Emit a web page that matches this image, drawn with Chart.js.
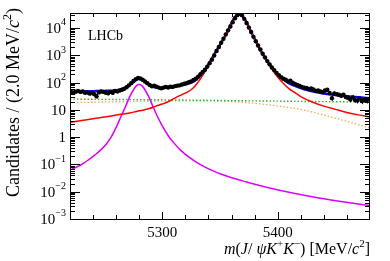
<!DOCTYPE html>
<html>
<head>
<meta charset="utf-8">
<script src="https://cdn.jsdelivr.net/npm/chart.js@4.4.0/dist/chart.umd.min.js"></script>
<style>
  html, body { margin: 0; padding: 0; background: #fff; }
  #wrap { width: 390px; height: 261px; }
</style>
</head>
<body>
<div id="wrap"><canvas id="massChart" width="390" height="261"></canvas></div>
<script>
// bin centres in MeV/c^2 (2 MeV bins)
var binCentres = [
    5221, 5223, 5225, 5227, 5229, 5231, 5233, 5235, 5237, 5239,
    5241, 5243, 5245, 5247, 5249, 5251, 5253, 5255, 5257, 5259,
    5261, 5263, 5265, 5267, 5269, 5271, 5273, 5275, 5277, 5279,
    5281, 5283, 5285, 5287, 5289, 5291, 5293, 5295, 5297, 5299,
    5301, 5303, 5305, 5307, 5309, 5311, 5313, 5315, 5317, 5319,
    5321, 5323, 5325, 5327, 5329, 5331, 5333, 5335, 5337, 5339,
    5341, 5343, 5345, 5347, 5349, 5351, 5353, 5355, 5357, 5359,
    5361, 5363, 5365, 5367, 5369, 5371, 5373, 5375, 5377, 5379,
    5381, 5383, 5385, 5387, 5389, 5391, 5393, 5395, 5397, 5399,
    5401, 5403, 5405, 5407, 5409, 5411, 5413, 5415, 5417, 5419,
    5421, 5423, 5425, 5427, 5429, 5431, 5433, 5435, 5437, 5439,
    5441, 5443, 5445, 5447, 5449, 5451, 5453, 5455, 5457, 5459,
    5461, 5463, 5465, 5467, 5469, 5471, 5473, 5475, 5477, 5479
];
// candidates per bin
var candidates = [
    45, 42, 47, 50, 46, 48, 43, 44, 40, 42,
    38, 32, 44, 48, 46, 43, 41, 46, 43, 50,
    48, 52, 55, 60, 68, 80, 96, 115, 135, 150,
    142, 128, 110, 95, 82, 74, 78, 72, 66, 62,
    66, 70, 67, 72, 70, 75, 78, 80, 86, 92,
    96, 104, 112, 125, 140, 165, 205, 250, 300, 390,
    520, 700, 1000, 1450, 2050, 2900, 4100, 5900, 8300, 11500,
    16500, 23000, 30000, 34000, 30000, 22000, 15500, 10500, 7200, 4800,
    3300, 2300, 1650, 1150, 850, 620, 470, 360, 290, 230,
    190, 160, 140, 128, 112, 118, 100, 90, 82, 76,
    70, 66, 64, 58, 62, 56, 50, 52, 48, 45,
    52, 55, 42, 27, 40, 38, 36, 33, 36, 30,
    28, 24, 29, 23, 22, 26, 21, 24, 22, 25
];

// fit curves: total (blue) and Bs signal (red) on one mass grid
var fitMass = [5220, 5230, 5240, 5250, 5256, 5260, 5264, 5268, 5272, 5276,
    5280, 5284, 5288, 5292, 5296, 5300, 5305, 5310, 5316, 5322,
    5326, 5330, 5334, 5338, 5342, 5346, 5350, 5354, 5358, 5361,
    5364, 5367, 5370, 5373, 5376, 5380, 5384, 5388, 5392, 5396,
    5400, 5405, 5410, 5415, 5420, 5430, 5440, 5450, 5460, 5470, 5480];
var totalFit = [47, 48, 49, 50, 51, 53, 57, 65, 84, 117,
    139, 118, 88, 70, 65, 64, 66, 71, 80, 92,
    104, 136, 204, 344, 644, 1304, 2444, 4743, 10043, 19043,
    29040, 34040, 26040, 16640, 8940, 4040, 1900, 970, 529, 313,
    197, 130, 95, 76, 64, 48, 40, 35, 31.5, 29, 27];
var bsFit = [3.5, 4.1, 4.8, 5.5, 6.0, 6.5, 6.9, 7.3, 7.8, 8.5,
    9.3, 10, 11, 12.5, 14.5, 16.5, 20, 26, 35, 46,
    60, 92, 160, 300, 600, 1260, 2400, 4700, 10000, 19000,
    29000, 34000, 26000, 16600, 8900, 4000, 1860, 930, 490, 275,
    162, 93, 59, 43, 31, 19.5, 13.8, 10.5, 8.1, 6.6, 5.5];

// B0 component (magenta)
var b0Mass = [5220, 5230, 5236, 5242, 5247, 5252, 5256, 5260, 5264, 5268,
    5272, 5276, 5278, 5280, 5282, 5284, 5288, 5292, 5296, 5300,
    5305, 5310, 5316, 5324, 5333, 5343, 5353, 5373, 5393, 5415,
    5437, 5458, 5480];
var b0Fit = [0.063, 0.1, 0.148, 0.23, 0.35, 0.6, 1.07, 2.3, 5.5, 13,
    32, 64, 80, 85, 80, 64, 32, 13, 5.5, 2.6,
    1.16, 0.62, 0.33, 0.174, 0.099, 0.061, 0.041, 0.0228, 0.0137, 0.0086,
    0.0058, 0.0042, 0.0031];

// combinatorial (green dotted) and other background (orange dotted)
var combMass = [5220, 5300, 5400, 5480];
var combFit = [25, 23.5, 21, 19.5];
var otherMass = [5220, 5260, 5300, 5340, 5370, 5400, 5420, 5440, 5460, 5480];
var otherFit = [18.5, 20, 21.5, 21.5, 19, 14, 10.5, 6.5, 3.8, 2.2];

// axis labels
var xTickValues = [5300, 5400];
var xTickLabels = ['5300', '5400'];
var yTickValues = [1e-3, 1e-2, 1e-1, 1, 10, 1e2, 1e3, 1e4];
var yTickBase = ['10', '10', '10', '1', '10', '10', '10', '10'];
var yTickExp = ['\u22123', '\u22122', '\u22121', '', '', '2', '3', '4'];

function pairs(xs, ys) {
    return xs.map(function (x, i) { return { x: x, y: ys[i] }; });
}

var serif = '"Liberation Serif", "Times New Roman", serif';

// draw a run of text pieces; i = italic, s = superscript
function drawPieces(c, pieces, size, x, y) {
    pieces.forEach(function (p) {
        var fs = p.s ? Math.round(size * 0.68) : size;
        c.font = (p.i ? 'italic ' : '') + fs + 'px ' + serif;
        c.fillText(p.t, x, p.s ? y - size * 0.42 : y);
        x += c.measureText(p.t).width;
    });
    return x;
}
function piecesWidth(c, pieces, size) {
    var w = 0;
    pieces.forEach(function (p) {
        var fs = p.s ? Math.round(size * 0.68) : size;
        c.font = (p.i ? 'italic ' : '') + fs + 'px ' + serif;
        w += c.measureText(p.t).width;
    });
    return w;
}

var framePlugin = {
    id: 'rootFrame',
    afterDatasetsDraw: function (chart) {
        // poisson error bars on the data
        var c = chart.ctx, ys = chart.scales.y, xs = chart.scales.x;
        c.save();
        c.strokeStyle = '#000';
        c.lineWidth = 1;
        candidates.forEach(function (n, i) {
            var e = Math.sqrt(n);
            var px = Math.round(xs.getPixelForValue(binCentres[i])) + 0.5;
            c.beginPath();
            c.moveTo(px, ys.getPixelForValue(n + e));
            c.lineTo(px, ys.getPixelForValue(Math.max(n - e, 1e-3)));
            c.stroke();
        });
        c.restore();
    },
    afterDraw: function (chart) {
        var c = chart.ctx, a = chart.chartArea;
        var xs = chart.scales.x, ys = chart.scales.y;
        c.save();
        c.strokeStyle = '#000';
        c.fillStyle = '#000';
        c.lineWidth = 1;
        c.strokeRect(a.left + 0.5, a.top + 0.5, a.right - a.left - 1, a.bottom - a.top);

        // x ticks every 20 MeV, top and bottom
        c.beginPath();
        for (var m = 5240; m < 5480; m += 20) {
            var px = Math.round(xs.getPixelForValue(m)) + 0.5;
            var len = (m % 100 === 0) ? 7 : 4;
            c.moveTo(px, a.bottom); c.lineTo(px, a.bottom - len);
            c.moveTo(px, a.top); c.lineTo(px, a.top + len);
        }
        // y ticks, log decades and minors, left and right
        for (var d = -3; d <= 4; d++) {
            for (var k = 1; k <= 9; k++) {
                var v = k * Math.pow(10, d);
                if (v > ys.max) break;
                var py = Math.round(ys.getPixelForValue(v)) + 0.5;
                var l2 = (k === 1) ? 10 : 5;
                c.moveTo(a.left, py); c.lineTo(a.left + l2, py);
                c.moveTo(a.right, py); c.lineTo(a.right - l2, py);
            }
        }
        c.stroke();

        // x tick labels
        c.font = '15px ' + serif;
        c.textAlign = 'center';
        c.textBaseline = 'middle';
        xTickValues.forEach(function (v, i) {
            c.fillText(xTickLabels[i], xs.getPixelForValue(v), 233);
        });

        // y tick labels with exponents
        c.textAlign = 'left';
        yTickValues.forEach(function (v, i) {
            var py = ys.getPixelForValue(v);
            var pieces = [{ t: yTickBase[i] }];
            if (yTickExp[i]) pieces.push({ t: yTickExp[i], s: true });
            var w = piecesWidth(c, pieces, 15);
            drawPieces(c, pieces, 15, 66 - w, py + 1);
        });

        // x title, right aligned to the frame
        c.textBaseline = 'alphabetic';
        var xt = [
            { t: 'm', i: true }, { t: '(' }, { t: 'J', i: true }, { t: '/ ' },
            { t: '\u03c8', i: true }, { t: 'K', i: true }, { t: '+', s: true },
            { t: 'K', i: true }, { t: '\u2212', s: true }, { t: ') [MeV/' },
            { t: 'c', i: true }, { t: '2', s: true }, { t: ']' }
        ];
        var xw = piecesWidth(c, xt, 16);
        drawPieces(c, xt, 16, a.right - xw, 254);

        // y title, rotated, aligned to the top
        var yt = [
            { t: 'Candidates / (2.0 MeV/' }, { t: 'c', i: true },
            { t: '2', s: true }, { t: ')' }
        ];
        var yw = piecesWidth(c, yt, 18);
        c.translate(19, 8);
        c.rotate(-Math.PI / 2);
        drawPieces(c, yt, 18, -yw, 0);
        c.restore();

        c.save();
        c.fillStyle = '#000';
        c.font = '14px ' + serif;
        c.textBaseline = 'alphabetic';
        c.fillText('LHCb', 88, 40);
        c.restore();
    }
};

var ctx = document.getElementById('massChart').getContext('2d');
var massChart = new Chart(ctx, {
    type: 'line',
    data: {
        datasets: [{
            label: 'Data',
            data: pairs(binCentres, candidates),
            showLine: false,
            pointRadius: 2.2,
            pointBackgroundColor: '#000',
            pointBorderWidth: 0,
            borderColor: '#000',
            order: 0
        }, {
            label: 'Total fit',
            data: pairs(fitMass, totalFit),
            borderColor: '#0000ff',
            borderWidth: 2.5,
            pointRadius: 0,
            cubicInterpolationMode: 'monotone',
            order: 6
        }, {
            label: 'Bs signal',
            data: pairs(fitMass, bsFit),
            borderColor: '#ff0000',
            borderWidth: 1.5,
            pointRadius: 0,
            cubicInterpolationMode: 'monotone',
            order: 2
        }, {
            label: 'B0 signal',
            data: pairs(b0Mass, b0Fit),
            borderColor: '#dd00ff',
            borderWidth: 1.5,
            pointRadius: 0,
            cubicInterpolationMode: 'monotone',
            order: 3
        }, {
            label: 'Combinatorial',
            data: pairs(combMass, combFit),
            borderColor: '#33b033',
            borderWidth: 1.4,
            borderDash: [1.5, 2],
            pointRadius: 0,
            cubicInterpolationMode: 'monotone',
            order: 4
        }, {
            label: 'Other background',
            data: pairs(otherMass, otherFit),
            borderColor: '#ffa64d',
            borderWidth: 1.3,
            borderDash: [1.5, 2],
            pointRadius: 0,
            cubicInterpolationMode: 'monotone',
            order: 5
        }]
    },
    options: {
        responsive: false,
        animation: false,
        layout: { padding: { left: 70, right: 20, top: 13, bottom: 42 } },
        plugins: {
            legend: { display: false },
            tooltip: { enabled: false }
        },
        scales: {
            x: { type: 'linear', min: 5220, max: 5480, display: false },
            y: { type: 'logarithmic', min: 1e-3, max: 3.6e4, display: false }
        }
    },
    plugins: [framePlugin]
});
</script>
</body>
</html>
